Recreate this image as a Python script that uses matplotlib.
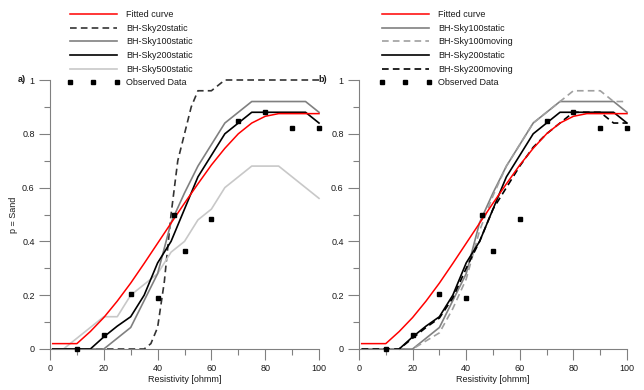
"""
Probability of sand vs. resistivity: fitted curve, BH-Sky model curves and observed data.
"""
import matplotlib
matplotlib.use('Agg')
import matplotlib.pyplot as plt
from matplotlib.lines import Line2D

plt.rcParams['font.family'] = ['Liberation Sans', 'DejaVu Sans']
plt.rcParams['font.size'] = 6.5

AXIS_COLOR = '#808080'
TEXT_COLOR = '#1a1a1a'

# Observed data (same in both panels)
obs_res = [10, 20, 30, 40, 46, 50, 60, 70, 80, 90, 100]
obs_p = [0.0, 0.053, 0.205, 0.191, 0.5, 0.364, 0.484, 0.847, 0.88, 0.821, 0.821]

# Fitted curve
fit_res = [1, 10, 15, 20, 25, 30, 35, 40, 45, 50, 55, 60, 65, 70, 75, 80, 85, 90, 95, 100]
fit_p = [0.02, 0.02, 0.065, 0.117, 0.178, 0.245, 0.318, 0.393, 0.468, 0.542, 0.614,
         0.684, 0.746, 0.800, 0.840, 0.865, 0.875, 0.875, 0.875, 0.875]

# BH-Sky20static
sky20s_res = [1, 35, 37.5, 40, 42.5, 45, 47.5, 50, 52.5, 55, 60, 65, 100]
sky20s_p = [0, 0, 0.02, 0.08, 0.25, 0.5, 0.7, 0.8, 0.9, 0.96, 0.96, 1.0, 1.0]

# BH-Sky100static
sky100s_res = [1, 20, 30, 35, 40, 45, 50, 55, 60, 65, 70, 75, 95, 100]
sky100s_p = [0, 0, 0.08, 0.18, 0.28, 0.47, 0.58, 0.68, 0.76, 0.84, 0.88, 0.92, 0.92, 0.88]

# BH-Sky200static
sky200s_res = [1, 15, 20, 25, 30, 35, 40, 45, 50, 55, 60, 65, 70, 75, 95, 100]
sky200s_p = [0, 0, 0.045, 0.085, 0.12, 0.2, 0.32, 0.4, 0.52, 0.64, 0.72, 0.8, 0.84, 0.88, 0.88, 0.84]

# BH-Sky500static
sky500s_res = [1, 5, 10, 15, 20, 25, 30, 35, 40, 45, 50, 55, 60, 65, 75, 85, 100]
sky500s_p = [0, 0, 0.04, 0.08, 0.12, 0.12, 0.2, 0.24, 0.28, 0.36, 0.4, 0.48, 0.52, 0.6, 0.68, 0.68, 0.56]

# BH-Sky100moving
sky100m_res = [1, 20, 30, 35, 40, 45, 50, 55, 60, 65, 70, 75, 80, 90, 95, 100]
sky100m_p = [0, 0, 0.06, 0.15, 0.26, 0.44, 0.57, 0.68, 0.76, 0.84, 0.88, 0.92, 0.96, 0.96, 0.92, 0.92]

# BH-Sky200moving
sky200m_res = [1, 15, 20, 25, 30, 35, 40, 45, 50, 55, 60, 65, 70, 75, 80, 90, 95, 100]
sky200m_p = [0, 0, 0.04, 0.08, 0.115, 0.19, 0.3, 0.4, 0.52, 0.6, 0.68, 0.75, 0.8, 0.84, 0.88, 0.88, 0.84, 0.84]

STYLES = {
    'fit': dict(color='#ff0000', lw=1.1, zorder=3),
    'sky20s': dict(color='#333333', lw=1.2, ls=(0, (4, 2.5)), zorder=2),
    'sky100s': dict(color='#808080', lw=1.2, zorder=2),
    'sky200s': dict(color='#000000', lw=1.2, zorder=2),
    'sky500s': dict(color='#c8c8c8', lw=1.2, zorder=2),
    'sky100m': dict(color='#a0a0a0', lw=1.2, ls=(0, (4, 2.5)), zorder=2),
    'sky200m': dict(color='#000000', lw=1.2, ls=(0, (4, 2.5)), zorder=2),
    'obs': dict(color='black', marker='s', ms=3.5, ls='none', zorder=4),
}


def style_axes(ax, ylabel=None):
    ax.set_xlim(0, 100)
    ax.set_ylim(0, 1)
    for side in ('top', 'right'):
        ax.spines[side].set_visible(False)
    for side in ('left', 'bottom'):
        ax.spines[side].set_color(AXIS_COLOR)
        ax.spines[side].set_linewidth(0.8)
    ax.set_xticks(range(0, 101, 20))
    ax.set_xticks(range(10, 100, 20), minor=True)
    ax.set_yticks([0, 0.2, 0.4, 0.6, 0.8, 1])
    ax.set_yticks([0.1, 0.3, 0.5, 0.7, 0.9], minor=True)
    ax.set_yticklabels(['0', '0.2', '0.4', '0.6', '0.8', '1'])
    ax.tick_params(which='major', length=8, width=0.8, color=AXIS_COLOR,
                   labelcolor=TEXT_COLOR, labelsize=6.5, pad=3)
    ax.tick_params(which='minor', length=4, width=0.8, color=AXIS_COLOR)
    ax.set_xlabel('Resistivity [ohmm]', color=TEXT_COLOR, fontsize=6.5, labelpad=1.5)
    if ylabel:
        ax.set_ylabel(ylabel, color=TEXT_COLOR, fontsize=6.5, labelpad=3)


def plot_series(ax, x, y, key, label):
    ax.plot(x, y, clip_on=False, label=label, **STYLES[key])


fig = plt.figure(figsize=(6.44, 3.90), dpi=100)
ax_a = fig.add_axes([50 / 644, 41 / 390, 269 / 644, 269 / 390])
ax_b = fig.add_axes([359 / 644, 41 / 390, 268 / 644, 269 / 390])

# Panel a)
plot_series(ax_a, fit_res, fit_p, 'fit', 'Fitted curve')
plot_series(ax_a, sky20s_res, sky20s_p, 'sky20s', 'BH-Sky20static')
plot_series(ax_a, sky500s_res, sky500s_p, 'sky500s', 'BH-Sky500static')
plot_series(ax_a, sky100s_res, sky100s_p, 'sky100s', 'BH-Sky100static')
plot_series(ax_a, sky200s_res, sky200s_p, 'sky200s', 'BH-Sky200static')
plot_series(ax_a, obs_res, obs_p, 'obs', 'Observed Data')
style_axes(ax_a, 'p = Sand')

# Panel b)
plot_series(ax_b, fit_res, fit_p, 'fit', 'Fitted curve')
plot_series(ax_b, sky100s_res, sky100s_p, 'sky100s', 'BH-Sky100static')
plot_series(ax_b, sky100m_res, sky100m_p, 'sky100m', 'BH-Sky100moving')
plot_series(ax_b, sky200s_res[1:], sky200s_p[1:], 'sky200s', 'BH-Sky200static')
plot_series(ax_b, sky200m_res, sky200m_p, 'sky200m', 'BH-Sky200moving')
plot_series(ax_b, obs_res, obs_p, 'obs', 'Observed Data')
style_axes(ax_b)


def add_legend(ax, entries, x_px):
    handles = [Line2D([0], [0], label=lab, **STYLES[key]) for key, lab in entries]
    leg = ax.legend(handles=handles, loc='upper left', frameon=False,
                    bbox_to_anchor=(x_px / 644, 1 - 10 / 390), bbox_transform=fig.transFigure,
                    numpoints=3, handlelength=5.8, handletextpad=0.75,
                    labelspacing=0.52, borderpad=0, borderaxespad=0, fontsize=6.5)
    for t in leg.get_texts():
        t.set_color(TEXT_COLOR)


add_legend(ax_a, [('fit', 'Fitted curve'), ('sky20s', 'BH-Sky20static'),
                  ('sky100s', 'BH-Sky100static'), ('sky200s', 'BH-Sky200static'),
                  ('sky500s', 'BH-Sky500static'), ('obs', 'Observed Data')], 67)
add_legend(ax_b, [('fit', 'Fitted curve'), ('sky100s', 'BH-Sky100static'),
                  ('sky100m', 'BH-Sky100moving'), ('sky200s', 'BH-Sky200static'),
                  ('sky200m', 'BH-Sky200moving'), ('obs', 'Observed Data')], 379)

# Panel letters
fig.text(18 / 644, 1 - 80 / 390, 'a)', fontsize=6.5, fontweight='bold',
         color=TEXT_COLOR, va='center', ha='left')
fig.text(318 / 644, 1 - 80 / 390, 'b)', fontsize=6.5, fontweight='bold',
         color=TEXT_COLOR, va='center', ha='left')

fig.savefig('out.png', dpi=100)
